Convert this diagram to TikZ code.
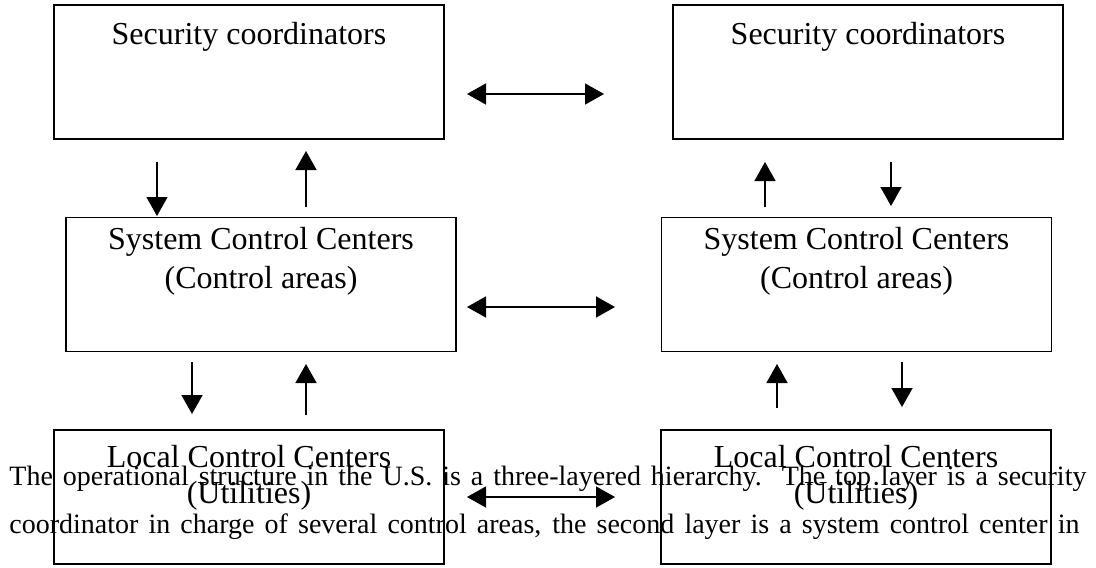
\documentclass[tikz,border=0pt]{standalone}
\usepackage{fontspec}
\setmainfont{Liberation Serif}
\usepackage{tikz}
\usetikzlibrary{arrows.meta}
\pgfdeclarelayer{edgelayer}
\pgfdeclarelayer{nodelayer}
\pgfsetlayers{edgelayer,nodelayer,main}
\tikzstyle{none}=[inner sep=0pt]
\tikzstyle{block}=[draw, line width=0.75pt, minimum width=195pt, minimum height=67pt, inner sep=0pt]
\tikzstyle{boxtext}=[inner sep=0pt, anchor=base, font=\fontsize{16}{19}\selectfont]
\tikzstyle{paraline}=[inner sep=0pt, anchor=base west, font=\fontsize{14}{17}\selectfont]
\tikzstyle{oneway}=[line width=0.75pt, -{Triangle[length=9.5pt,width=10.5pt]}]
\tikzstyle{twoway}=[line width=0.75pt, {Triangle[length=9.5pt,width=10.5pt]}-{Triangle[length=9.5pt,width=10.5pt]}]

\begin{document}
\begin{tikzpicture}[x=0.5pt,y=-0.5pt]
	\useasboundingbox (0,0) rectangle (1096,567);
	\begin{pgfonlayer}{nodelayer}
		\node [block] (secleft) at (249,72) {};
		\node [block] (secright) at (868,72) {};
		\node [block] (sysleft) at (261,284.5) {};
		\node [block] (sysright) at (856.5,284.5) {};
		\node [block] (locleft) at (249,497) {};
		\node [block] (locright) at (856,497) {};
		\node [boxtext] (secleftA) at (249,45) {Security coordinators};
		\node [boxtext] (secrightA) at (868,45) {Security coordinators};
		\node [boxtext] (sysleftA) at (261,249) {System Control Centers};
		\node [boxtext] (sysleftB) at (261,288) {(Control areas)};
		\node [boxtext] (sysrightA) at (856.5,249) {System Control Centers};
		\node [boxtext] (sysrightB) at (856.5,288) {(Control areas)};
		\node [boxtext] (locleftA) at (249,467) {Local Control Centers};
		\node [boxtext] (locleftB) at (249,503) {(Utilities)};
		\node [boxtext] (locrightA) at (856,467) {Local Control Centers};
		\node [boxtext] (locrightB) at (856,503) {(Utilities)};
		\node [paraline] (line1) at (9,485) {\hbox to 538.5pt{The operational structure in the U.S. is a three-layered hierarchy.\ \ The top layer is a security}};
		\node [paraline] (line2) at (9,533) {\hbox to 535pt{coordinator in charge of several control areas, the second layer is a system control center in}};
		% arrow ends
		\node [style=none] (topW) at (467,94) {};
		\node [style=none] (topE) at (604,94) {};
		\node [style=none] (midW) at (467,307) {};
		\node [style=none] (midE) at (615,307) {};
		\node [style=none] (botW) at (467,497) {};
		\node [style=none] (botE) at (615,497) {};
		\node [style=none] (d1a) at (157,162) {};
		\node [style=none] (d1b) at (157,216) {};
		\node [style=none] (u1a) at (306,207) {};
		\node [style=none] (u1b) at (306,151) {};
		\node [style=none] (u2a) at (765,207) {};
		\node [style=none] (u2b) at (765,162) {};
		\node [style=none] (d2a) at (891,162) {};
		\node [style=none] (d2b) at (891,206) {};
		\node [style=none] (d3a) at (192,362) {};
		\node [style=none] (d3b) at (192,414) {};
		\node [style=none] (u3a) at (306,415) {};
		\node [style=none] (u3b) at (306,364) {};
		\node [style=none] (u4a) at (777,408) {};
		\node [style=none] (u4b) at (777,364) {};
		\node [style=none] (d4a) at (902,362) {};
		\node [style=none] (d4b) at (902,407) {};
	\end{pgfonlayer}
	\begin{pgfonlayer}{edgelayer}
		\draw [twoway] (topW.center) to (topE.center);
		\draw [twoway] (midW.center) to (midE.center);
		\draw [twoway] (botW.center) to (botE.center);
		\draw [oneway] (d1a.center) to (d1b.center);
		\draw [oneway] (u1a.center) to (u1b.center);
		\draw [oneway] (u2a.center) to (u2b.center);
		\draw [oneway] (d2a.center) to (d2b.center);
		\draw [oneway] (d3a.center) to (d3b.center);
		\draw [oneway] (u3a.center) to (u3b.center);
		\draw [oneway] (u4a.center) to (u4b.center);
		\draw [oneway] (d4a.center) to (d4b.center);
	\end{pgfonlayer}
\end{tikzpicture}
\end{document}
